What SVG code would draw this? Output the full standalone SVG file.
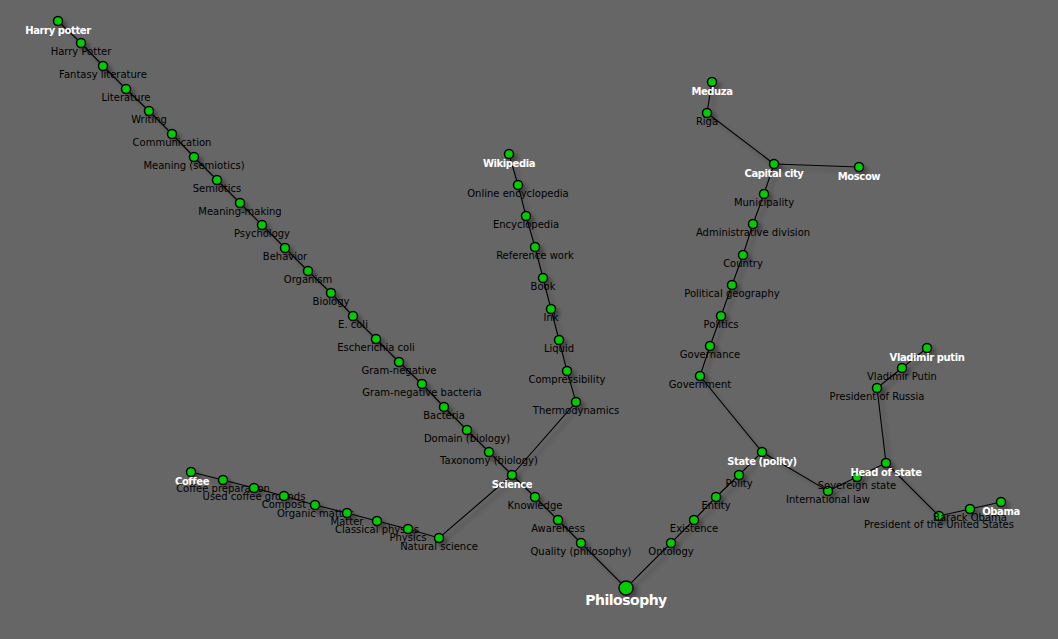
<svg xmlns="http://www.w3.org/2000/svg" width="1058" height="639" viewBox="0 0 1058 639">
<defs>
<filter id="sh" x="-20%" y="-20%" width="140%" height="140%">
<feGaussianBlur in="SourceAlpha" stdDeviation="2.2"/>
<feOffset dx="4" dy="4" result="b"/>
<feComponentTransfer><feFuncA type="linear" slope="0.35"/></feComponentTransfer>
<feMerge><feMergeNode/><feMergeNode in="SourceGraphic"/></feMerge>
</filter>
<filter id="shn" x="-100%" y="-100%" width="300%" height="300%">
<feGaussianBlur in="SourceAlpha" stdDeviation="2"/>
<feOffset dx="4" dy="4" result="b"/>
<feComponentTransfer><feFuncA type="linear" slope="0.3"/></feComponentTransfer>
<feMerge><feMergeNode/><feMergeNode in="SourceGraphic"/></feMerge>
</filter>
</defs>
<style>
.l{stroke:#000;stroke-width:1.1;fill:none}
.n circle{fill:#00cc00;stroke:#000;stroke-width:1.5;filter:url(#shn)}
.n text{font-family:"DejaVu Sans",Verdana,sans-serif;font-size:10px;fill:#000;text-anchor:middle}
.n text.b{font-weight:bold;fill:#fff;letter-spacing:-0.4px}
.n text.p{font-weight:bold;fill:#fff;font-size:14px;letter-spacing:-0.5px}
</style>
<rect width="1058" height="639" fill="#666666"/>
<g id="links" filter="url(#sh)">
<polyline class="l" points="58,21 81,43 103,66 126,89 149,111 172,134 194,157 217,180 240,203 262,225 285,248 308,271 331,293 353,316 376,339 399,362 422,384 444,407 467,430 489,452 512,475 535,497 558,520 581,543 626,588 671,543 694,520 716,497 739,475 762,452 700,376 710,346 721,316 732,285 743,255 753,224 764,194 774,164 707,113 712,82"/>
<polyline class="l" points="774,164 859,167"/>
<polyline class="l" points="191,472 223,480 254,488 284,496 315,505 347,513 377,521 408,529 439,538 512,475"/>
<polyline class="l" points="509,154 518,185 526,216 535,247 543,278 551,309 559,340 567,371 576,402 512,475"/>
<polyline class="l" points="762,452 828,491 857,477 886,463 877,388 902,368 927,348"/>
<polyline class="l" points="886,463 939,516 970,509 1001,502"/>
</g>
<g id="n-harry-potter" class="n"><circle cx="58" cy="21" r="4.5"/><text class="b" x="58" y="33.5">Harry potter</text></g>
<g id="n-harry-potter-2" class="n"><circle cx="81" cy="43" r="4.5"/><text x="81" y="55">Harry Potter</text></g>
<g id="n-fantasy-literature" class="n"><circle cx="103" cy="66" r="4.5"/><text x="103" y="77.5">Fantasy literature</text></g>
<g id="n-literature" class="n"><circle cx="126" cy="89" r="4.5"/><text x="126" y="100.5">Literature</text></g>
<g id="n-writing" class="n"><circle cx="149" cy="111" r="4.5"/><text x="149" y="122.5">Writing</text></g>
<g id="n-communication" class="n"><circle cx="172" cy="134" r="4.5"/><text x="172" y="145.5">Communication</text></g>
<g id="n-meaning-semiotics" class="n"><circle cx="194" cy="157" r="4.5"/><text x="194" y="168.5">Meaning (semiotics)</text></g>
<g id="n-semiotics" class="n"><circle cx="217" cy="180" r="4.5"/><text x="217" y="191.5">Semiotics</text></g>
<g id="n-meaning-making" class="n"><circle cx="240" cy="203" r="4.5"/><text x="240" y="214.5">Meaning-making</text></g>
<g id="n-psychology" class="n"><circle cx="262" cy="225" r="4.5"/><text x="262" y="236.5">Psychology</text></g>
<g id="n-behavior" class="n"><circle cx="285" cy="248" r="4.5"/><text x="285" y="259.5">Behavior</text></g>
<g id="n-organism" class="n"><circle cx="308" cy="271" r="4.5"/><text x="308" y="282.5">Organism</text></g>
<g id="n-biology" class="n"><circle cx="331" cy="293" r="4.5"/><text x="331" y="304.5">Biology</text></g>
<g id="n-e-coli" class="n"><circle cx="353" cy="316" r="4.5"/><text x="353" y="327.5">E. coli</text></g>
<g id="n-escherichia-coli" class="n"><circle cx="376" cy="339" r="4.5"/><text x="376" y="350.5">Escherichia coli</text></g>
<g id="n-gram-negative" class="n"><circle cx="399" cy="362" r="4.5"/><text x="399" y="373.5">Gram-negative</text></g>
<g id="n-gram-negative-bacteria" class="n"><circle cx="422" cy="384" r="4.5"/><text x="422" y="395.5">Gram-negative bacteria</text></g>
<g id="n-bacteria" class="n"><circle cx="444" cy="407" r="4.5"/><text x="444" y="418.5">Bacteria</text></g>
<g id="n-domain-biology" class="n"><circle cx="467" cy="430" r="4.5"/><text x="467" y="441.5">Domain (biology)</text></g>
<g id="n-taxonomy-biology" class="n"><circle cx="489" cy="452" r="4.5"/><text x="489" y="463.5">Taxonomy (biology)</text></g>
<g id="n-science" class="n"><circle cx="512" cy="475" r="4.5"/><text class="b" x="512" y="487.5">Science</text></g>
<g id="n-knowledge" class="n"><circle cx="535" cy="497" r="4.5"/><text x="535" y="508.5">Knowledge</text></g>
<g id="n-awareness" class="n"><circle cx="558" cy="520" r="4.5"/><text x="558" y="531.5">Awareness</text></g>
<g id="n-quality-philosophy" class="n"><circle cx="581" cy="543" r="4.5"/><text x="581" y="554.5">Quality (philosophy)</text></g>
<g id="n-philosophy" class="n"><circle cx="626" cy="588" r="7"/><text class="p" x="626" y="605">Philosophy</text></g>
<g id="n-ontology" class="n"><circle cx="671" cy="543" r="4.5"/><text x="671" y="554.5">Ontology</text></g>
<g id="n-existence" class="n"><circle cx="694" cy="520" r="4.5"/><text x="694" y="531.5">Existence</text></g>
<g id="n-entity" class="n"><circle cx="716" cy="497" r="4.5"/><text x="716" y="508.5">Entity</text></g>
<g id="n-polity" class="n"><circle cx="739" cy="475" r="4.5"/><text x="739" y="486.5">Polity</text></g>
<g id="n-state-polity" class="n"><circle cx="762" cy="452" r="4.5"/><text class="b" x="762" y="464.5">State (polity)</text></g>
<g id="n-government" class="n"><circle cx="700" cy="376" r="4.5"/><text x="700" y="387.5">Government</text></g>
<g id="n-governance" class="n"><circle cx="710" cy="346" r="4.5"/><text x="710" y="357.5">Governance</text></g>
<g id="n-politics" class="n"><circle cx="721" cy="316" r="4.5"/><text x="721" y="327.5">Politics</text></g>
<g id="n-political-geography" class="n"><circle cx="732" cy="285" r="4.5"/><text x="732" y="296.5">Political geography</text></g>
<g id="n-country" class="n"><circle cx="743" cy="255" r="4.5"/><text x="743" y="266.5">Country</text></g>
<g id="n-administrative-division" class="n"><circle cx="753" cy="224" r="4.5"/><text x="753" y="235.5">Administrative division</text></g>
<g id="n-municipality" class="n"><circle cx="764" cy="194" r="4.5"/><text x="764" y="205.5">Municipality</text></g>
<g id="n-capital-city" class="n"><circle cx="774" cy="164" r="4.5"/><text class="b" x="774" y="176.5">Capital city</text></g>
<g id="n-riga" class="n"><circle cx="707" cy="113" r="4.5"/><text x="707" y="124.5">Riga</text></g>
<g id="n-meduza" class="n"><circle cx="712" cy="82" r="4.5"/><text class="b" x="712" y="94.5">Meduza</text></g>
<g id="n-moscow" class="n"><circle cx="859" cy="167" r="4.5"/><text class="b" x="859" y="179.5">Moscow</text></g>
<g id="n-international-law" class="n"><circle cx="828" cy="491" r="4.5"/><text x="828" y="502.5">International law</text></g>
<g id="n-sovereign-state" class="n"><circle cx="857" cy="477" r="4.5"/><text x="857" y="488.5">Sovereign state</text></g>
<g id="n-head-of-state" class="n"><circle cx="886" cy="463" r="4.5"/><text class="b" x="886" y="475.5">Head of state</text></g>
<g id="n-president-of-russia" class="n"><circle cx="877" cy="388" r="4.5"/><text x="877" y="399.5">President of Russia</text></g>
<g id="n-vladimir-putin-2" class="n"><circle cx="902" cy="368" r="4.5"/><text x="902" y="379.5">Vladimir Putin</text></g>
<g id="n-vladimir-putin" class="n"><circle cx="927" cy="348" r="4.5"/><text class="b" x="927" y="360.5">Vladimir putin</text></g>
<g id="n-president-usa" class="n"><circle cx="939" cy="516" r="4.5"/><text x="939" y="527.5">President of the United States</text></g>
<g id="n-barack-obama" class="n"><circle cx="970" cy="509" r="4.5"/><text x="970" y="520.5">Barack Obama</text></g>
<g id="n-obama" class="n"><circle cx="1001" cy="502" r="4.5"/><text class="b" x="1001" y="514.5">Obama</text></g>
<g id="n-wikipedia" class="n"><circle cx="509" cy="154" r="4.5"/><text class="b" x="509" y="166.5">Wikipedia</text></g>
<g id="n-online-encyclopedia" class="n"><circle cx="518" cy="185" r="4.5"/><text x="518" y="196.5">Online encyclopedia</text></g>
<g id="n-encyclopedia" class="n"><circle cx="526" cy="216" r="4.5"/><text x="526" y="227.5">Encyclopedia</text></g>
<g id="n-reference-work" class="n"><circle cx="535" cy="247" r="4.5"/><text x="535" y="258.5">Reference work</text></g>
<g id="n-book" class="n"><circle cx="543" cy="278" r="4.5"/><text x="543" y="289.5">Book</text></g>
<g id="n-ink" class="n"><circle cx="551" cy="309" r="4.5"/><text x="551" y="320.5">Ink</text></g>
<g id="n-liquid" class="n"><circle cx="559" cy="340" r="4.5"/><text x="559" y="351.5">Liquid</text></g>
<g id="n-compressibility" class="n"><circle cx="567" cy="371" r="4.5"/><text x="567" y="382.5">Compressibility</text></g>
<g id="n-thermodynamics" class="n"><circle cx="576" cy="402" r="4.5"/><text x="576" y="413.5">Thermodynamics</text></g>
<g id="n-coffee" class="n"><circle cx="191" cy="472" r="4.5"/><text class="b" x="192" y="484.5">Coffee</text></g>
<g id="n-coffee-preparation" class="n"><circle cx="223" cy="480" r="4.5"/><text x="223" y="491.5">Coffee preparation</text></g>
<g id="n-used-coffee-grounds" class="n"><circle cx="254" cy="488" r="4.5"/><text x="254" y="499.5">Used coffee grounds</text></g>
<g id="n-compost" class="n"><circle cx="284" cy="496" r="4.5"/><text x="284" y="507.5">Compost</text></g>
<g id="n-organic-matter" class="n"><circle cx="315" cy="505" r="4.5"/><text x="315" y="516.5">Organic matter</text></g>
<g id="n-matter" class="n"><circle cx="347" cy="513" r="4.5"/><text x="347" y="524.5">Matter</text></g>
<g id="n-classical-physics" class="n"><circle cx="377" cy="521" r="4.5"/><text x="377" y="532.5">Classical physics</text></g>
<g id="n-physics" class="n"><circle cx="408" cy="529" r="4.5"/><text x="408" y="540.5">Physics</text></g>
<g id="n-natural-science" class="n"><circle cx="439" cy="538" r="4.5"/><text x="439" y="549.5">Natural science</text></g>
</svg>
